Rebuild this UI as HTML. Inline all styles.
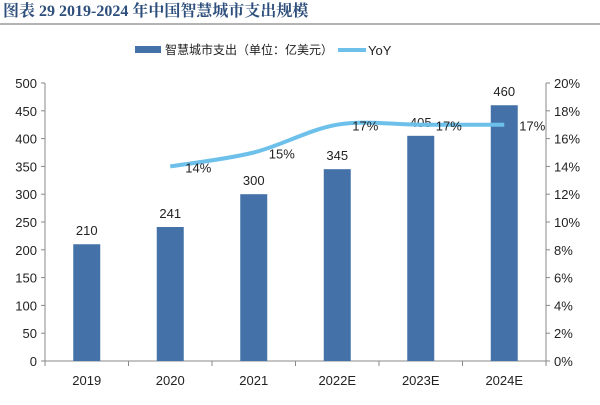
<!DOCTYPE html>
<html><head><meta charset="utf-8"><style>
body{margin:0;background:#fff;width:600px;height:400px;overflow:hidden}
text{font-family:"Liberation Sans","Noto Sans CJK SC",sans-serif}
</style></head><body>
<svg width="600" height="400">
<text x="3" y="16" font-size="16" font-weight="bold" fill="#2e4f7c" style="font-family:'Liberation Serif','Noto Serif CJK SC',serif">图表 29 2019-2024 年中国智慧城市支出规模</text>
<line x1="0" y1="24" x2="600" y2="24" stroke="#888" stroke-width="1.2"/>
<g>
<rect x="135" y="46" width="26" height="7" fill="#4472a8"/>
<text x="165" y="54" font-size="12" fill="#222">智慧城市支出（单位：亿美元）</text>
<line x1="338" y1="50" x2="366" y2="50" stroke="#6cc0ea" stroke-width="4"/>
<text x="368" y="55" font-size="13" fill="#222">YoY</text>
</g>
<g id="plot"></g>
</svg>
<script>
const categories=["2019","2020","2021","2022E","2023E","2024E"];
const spend=[210,241,300,345,405,460];
const yoy=[null,14,15,17,17,17];
const leftTicks=[0,50,100,150,200,250,300,350,400,450,500];
const rightTicks=[0,2,4,6,8,10,12,14,16,18,20];
const L=45,R=546,T=83,B=361;
const ns="http://www.w3.org/2000/svg";
const g=document.getElementById('plot');
const yL=v=>B-(v/500)*(B-T);
const yR=v=>B-(v/20)*(B-T);
const bw=(R-L)/categories.length;
const xC=i=>L+bw*(i+0.5);
function mk(t,a,p){const e=document.createElementNS(ns,t);for(const k in a)e.setAttribute(k,a[k]);(p||g).appendChild(e);return e;}
// axes
let e=mk('line',{x1:L,y1:T,x2:L,y2:B,stroke:'#888'});


e=mk('line',{x1:R,y1:T,x2:R,y2:B,stroke:'#888'});


e=mk('line',{x1:L,y1:B,x2:R,y2:B,stroke:'#888'});


leftTicks.forEach(v=>{const y=yL(v);
 mk('line',{x1:L-4,y1:y,x2:L,y2:y,stroke:'#888'});
 const t=mk('text',{x:L-8,y:y+5,'text-anchor':'end','font-size':13,fill:'#222'});t.textContent=v;
 
 });
rightTicks.forEach(v=>{const y=yR(v);
 mk('line',{x1:R,y1:y,x2:R+4,y2:y,stroke:'#888'});
 const t=mk('text',{x:R+8,y:y+5,'font-size':13,fill:'#222'});t.textContent=v+'%';
 
 });
for(let i=0;i<=categories.length;i++){const x=L+bw*i;mk('line',{x1:x,y1:B,x2:x,y2:B+5,stroke:'#888'});}
categories.forEach((c,i)=>{
 const t=mk('text',{x:xC(i),y:B+24,'text-anchor':'middle','font-size':13,fill:'#222'});t.textContent=c;
 
 
 const y=yL(spend[i]);
 const r=mk('rect',{x:xC(i)-13.5,y:y,width:27,height:B-y,fill:'#4472a8'});
 
 
 const l=mk('text',{x:xC(i),y:y-9,'text-anchor':'middle','font-size':13,fill:'#222'});l.textContent=spend[i];
 
 
});
// smooth line
const pts=[];yoy.forEach((v,i)=>{if(v!=null)pts.push([xC(i),yR(v)]);});
let d='M'+pts[0][0]+','+pts[0][1];
for(let i=0;i<pts.length-1;i++){const p0=pts[i-1]||pts[i],p1=pts[i],p2=pts[i+1],p3=pts[i+2]||p2;
 const c1=[p1[0]+(p2[0]-p0[0])/6,p1[1]+(p2[1]-p0[1])/6],c2=[p2[0]-(p3[0]-p1[0])/6,p2[1]-(p3[1]-p1[1])/6];
 d+=` C${c1[0]},${c1[1]} ${c2[0]},${c2[1]} ${p2[0]},${p2[1]}`;}
const path=mk('path',{d:d,fill:'none',stroke:'#6cc0ea','stroke-width':4});


yoy.forEach((v,i)=>{if(v==null)return;
 const t=mk('text',{x:xC(i)+15,y:yR(v)+6,'font-size':13,fill:'#222'});t.textContent=v+'%';
 
 });
</script>
</body></html>
